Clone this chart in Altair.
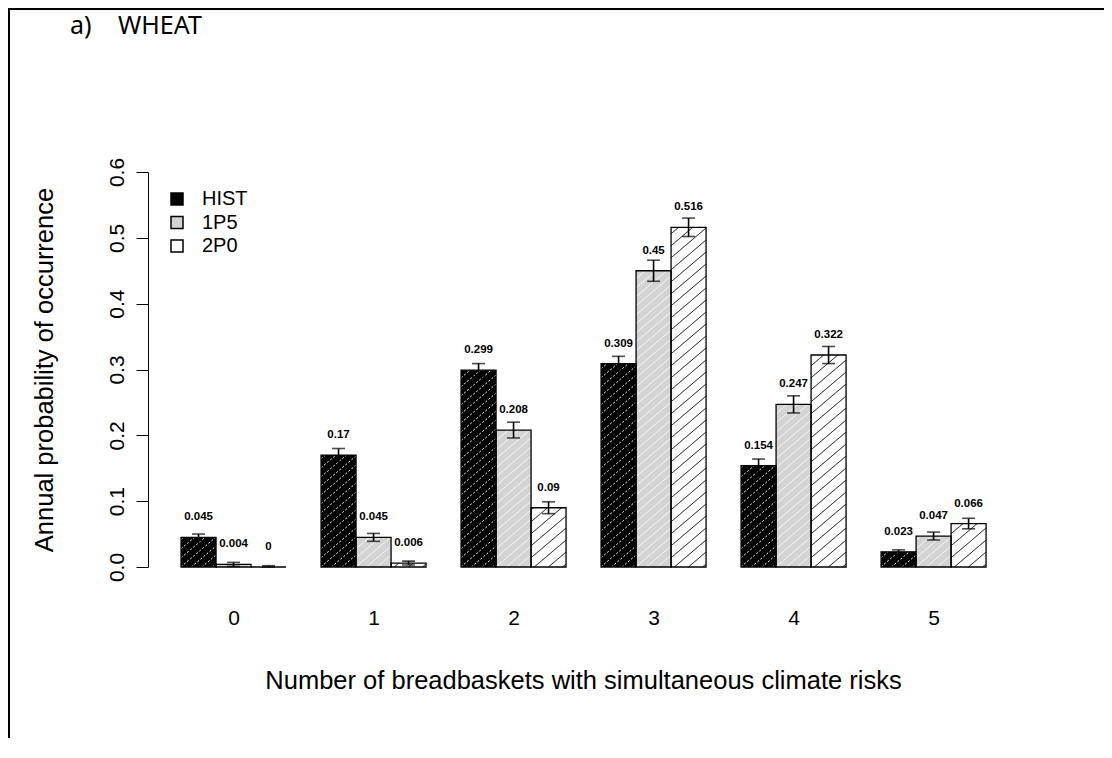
import altair as alt
import pandas as pd

# ---- data ----
categories = [0, 1, 2, 3, 4, 5]
series = ["HIST", "1P5", "2P0"]
hist = [0.045, 0.17, 0.299, 0.309, 0.154, 0.023]
p1p5 = [0.004, 0.045, 0.208, 0.45, 0.247, 0.047]
p2p0 = [0.0, 0.006, 0.09, 0.516, 0.322, 0.066]
hist_err = [0.005, 0.010, 0.010, 0.011, 0.010, 0.003]
p1p5_err = [0.003, 0.006, 0.012, 0.016, 0.013, 0.006]
p2p0_err = [0.002, 0.003, 0.009, 0.014, 0.013, 0.008]
y_ticks = [0.0, 0.1, 0.2, 0.3, 0.4, 0.5, 0.6]

# ---- styling ----
fills = ["#000000", "#d3d3d3", "#ffffff"]
hatch_color = ["#ffffff", "#ffffff", "#000000"]
hatch_gap = [9, 9, 12]          # vertical spacing in px
hatch_dash = [[2, 2], [1, 0], [1, 0]]
hatch_opacity = [1.0, 0.9, 1.0]
FONT = "Liberation Sans"

W, H = 870, 395
XMIN, XMAX = -0.611, 5.603
YMAX = 0.6
BAR_W = 0.25
PX_X = W / (XMAX - XMIN)
PX_Y = H / YMAX
SLOPE = 0.85

vals = [hist, p1p5, p2p0]
errs = [hist_err, p1p5_err, p2p0_err]

rows = []
for i, g in enumerate(categories):
    for k, s in enumerate(series):
        x0 = g - 1.5 * BAR_W + k * BAR_W
        v = vals[k][i]
        e = errs[k][i]
        rows.append(dict(cat=g, series=s, order=k, x0=x0, x1=x0 + BAR_W,
                         xc=x0 + BAR_W / 2, val=v, lo=max(v - e, 0), hi=v + e,
                         label=f"{v:g}"))
df = pd.DataFrame(rows)

# hatch segments derived from each bar
hrows = []
for r in rows:
    k = r["order"]
    wpx = BAR_W * PX_X
    hpx = r["val"] * PX_Y
    c = -SLOPE * wpx + 3
    while c < hpx:
        xs = max(0.0, -c / SLOPE)
        xe = min(wpx, (hpx - c) / SLOPE)
        if xe > xs + 0.5:
            hrows.append(dict(series=r["series"], order=k,
                              hx=r["x0"] + xs / PX_X, hx2=r["x0"] + xe / PX_X,
                              hy=(c + SLOPE * xs) / PX_Y, hy2=(c + SLOPE * xe) / PX_Y))
        c += hatch_gap[k]
hdf = pd.DataFrame(hrows)

one = pd.DataFrame({"n": [0]})

xscale = alt.Scale(domain=[XMIN, XMAX], nice=False, zero=False)
yscale = alt.Scale(domain=[0, YMAX], nice=False)
color_scale = alt.Scale(domain=series, range=fills)

bars = alt.Chart(df).mark_rect(strokeWidth=0).encode(
    x=alt.X("x0:Q", scale=xscale,
            axis=alt.Axis(values=categories, format="d",
                          title="Number of breadbaskets with simultaneous climate risks",
                          domain=False, ticks=False, tickSize=0, grid=False,
                          labelPadding=40, titlePadding=40, labelFontSize=21,
                          titleFontSize=25.5, labelFont=FONT, titleFont=FONT,
                          titleFontWeight="normal", labelColor="#000000",
                          titleColor="#000000")),
    x2="x1:Q",
    y=alt.Y("val:Q", scale=yscale,
            axis=alt.Axis(values=y_ticks, format=".1f",
                          title="Annual probability of occurrence",
                          grid=False, tickSize=12, tickColor="#000000",
                          domainColor="#000000", tickWidth=1, domainWidth=1,
                          labelAngle=270, labelAlign="center",
                          labelBaseline="bottom", labelPadding=9,
                          titlePadding=49, labelFontSize=21, titleFontSize=25.5,
                          labelFont=FONT, titleFont=FONT,
                          titleFontWeight="normal", labelColor="#000000",
                          titleColor="#000000")),
    y2=alt.Y2(datum=0),
    fill=alt.Fill("series:N", scale=color_scale, sort=series,
                  legend=alt.Legend(title=None, orient="none", legendX=19,
                                    legendY=17, symbolType="square",
                                    symbolSize=144, symbolStrokeColor="#000000",
                                    symbolStrokeWidth=1.5, labelFontSize=20,
                                    labelFont=FONT, labelColor="#000000",
                                    labelOffset=15, rowPadding=3.5, padding=0)),
)

hatch_layers = []
for k, s in enumerate(series):
    sub = hdf[hdf["series"] == s]
    hatch_layers.append(
        alt.Chart(sub).mark_rule(color=hatch_color[k], strokeWidth=1,
                                 strokeDash=hatch_dash[k],
                                 opacity=hatch_opacity[k]).encode(
            x=alt.X("hx:Q", scale=xscale), x2="hx2:Q",
            y=alt.Y("hy:Q", scale=yscale), y2="hy2:Q"))

outline = alt.Chart(df).mark_rect(fillOpacity=0, stroke="#000000",
                                  strokeWidth=1.3).encode(
    x=alt.X("x0:Q", scale=xscale), x2="x1:Q",
    y=alt.Y("val:Q", scale=yscale), y2=alt.Y2(datum=0))

err = alt.Chart(df).mark_rule(color="#000000", strokeWidth=1.6).encode(
    x=alt.X("xc:Q", scale=xscale),
    y=alt.Y("lo:Q", scale=yscale), y2="hi:Q")

cap_hi = alt.Chart(df).mark_tick(orient="horizontal", color="#000000",
                                 size=13, thickness=1.6).encode(
    x=alt.X("xc:Q", scale=xscale), y=alt.Y("hi:Q", scale=yscale))
cap_lo = alt.Chart(df).mark_tick(orient="horizontal", color="#000000",
                                 size=13, thickness=1.6).encode(
    x=alt.X("xc:Q", scale=xscale), y=alt.Y("lo:Q", scale=yscale))

labels = alt.Chart(df).mark_text(font=FONT, fontSize=11.5, fontWeight="bold",
                                 color="#000000", baseline="middle",
                                 dy=-20).encode(
    x=alt.X("xc:Q", scale=xscale), y=alt.Y("val:Q", scale=yscale),
    text="label:N")

# panel heading and frame lines (annotation, not data)
head_a = alt.Chart(one).mark_text(font="Noto Sans", fontSize=25, fontWeight="normal",
                                  align="left", baseline="alphabetic",
                                  color="#000000").encode(
    x=alt.value(70 - 148), y=alt.value(34 - 172), text=alt.value("a)"))
head_b = alt.Chart(one).mark_text(font="Noto Sans", fontSize=25, fontWeight="normal",
                                  align="left", baseline="alphabetic",
                                  color="#000000").encode(
    x=alt.value(118 - 148), y=alt.value(34 - 172), text=alt.value("WHEAT"))
frame_top = alt.Chart(one).mark_rule(color="#000000", strokeWidth=2).encode(
    x=alt.value(-140), x2=alt.value(W + 86), y=alt.value(-163))
frame_left = alt.Chart(one).mark_rule(color="#000000", strokeWidth=2).encode(
    x=alt.value(-139), y=alt.value(-164), y2=alt.value(H + 171))

chart = alt.layer(bars, *hatch_layers, outline, err, cap_hi, cap_lo, labels,
                  head_a, head_b, frame_top, frame_left).properties(
    width=W, height=H,
    background="#ffffff",
    autosize=alt.AutoSizeParams(type="none"),
    padding={"left": 140, "top": 164, "right": 86, "bottom": 171},
).configure_view(strokeWidth=0)

chart.save("out.html", embed_options={"renderer": "svg", "actions": False})
